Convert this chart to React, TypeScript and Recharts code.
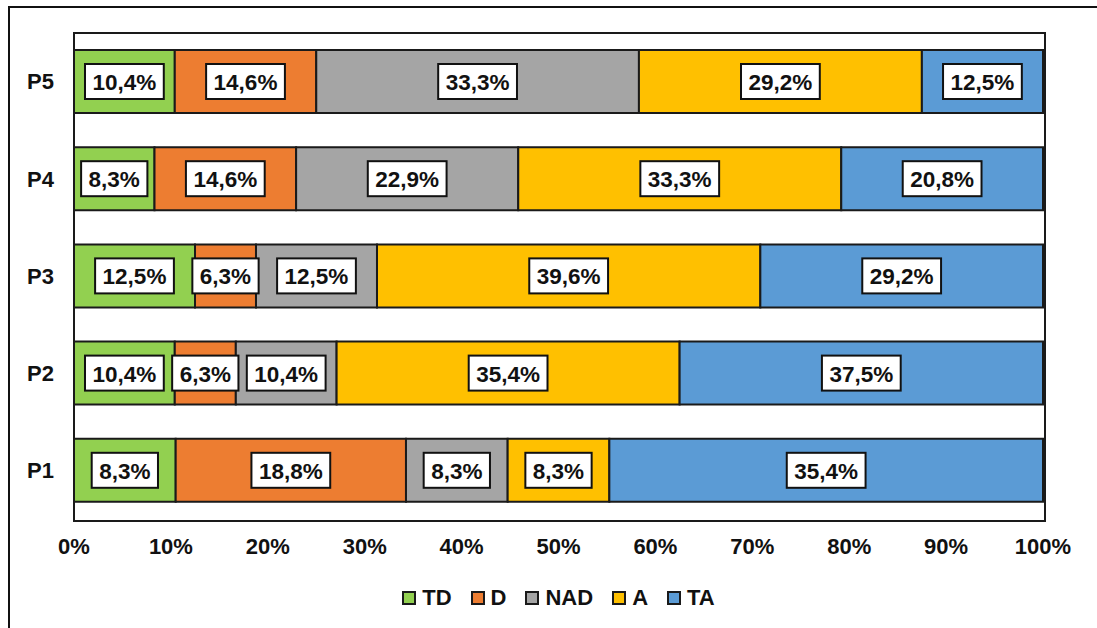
import React from 'react';
import { BarChart, Bar, XAxis, YAxis, LabelList } from 'recharts';

// categories bottom to top (P1 sits at the bottom)
const categories = ['P1', 'P2', 'P3', 'P4', 'P5'];

const tdValues = [8.3, 10.4, 12.5, 8.3, 10.4];
const dValues = [18.8, 6.3, 6.3, 14.6, 14.6];
const nadValues = [8.3, 10.4, 12.5, 22.9, 33.3];
const aValues = [8.3, 35.4, 39.6, 33.3, 29.2];
const taValues = [35.4, 37.5, 29.2, 20.8, 12.5];

const xTicks = [0, 0.1, 0.2, 0.3, 0.4, 0.5, 0.6, 0.7, 0.8, 0.9, 1];

const series = [
    { key: 'TD', values: tdValues, color: '#92D050' },
    { key: 'D', values: dValues, color: '#ED7D31' },
    { key: 'NAD', values: nadValues, color: '#A5A5A5' },
    { key: 'A', values: aValues, color: '#FFC000' },
    { key: 'TA', values: taValues, color: '#5B9BD5' },
];

const FONT = '"Liberation Sans", Arial, sans-serif';
const W = 1097;
const H = 628;
const PLOT = { left: 74, top: 33, right: 1043, bottom: 519 };

const data = categories.map((name, i) => {
    const row: any = { name };
    series.forEach(s => { row[s.key] = s.values[i]; });
    return row;
});

const fmt = (v: number) => v.toFixed(1).replace('.', ',') + '%';

// rough Arial bold widths in em
const textWidth = (s: string, size: number) => {
    let w = 0;
    for (const c of s) {
        if (c === ',') w += 0.278;
        else if (c === '%') w += 0.889;
        else w += 0.556;
    }
    return w * size;
};

const makeLabel = (values: number[]) => (props: any) => {
    const { x, y, width, height, index } = props;
    const txt = fmt(values[index]);
    const fs = 22.5;
    const bw = textWidth(txt, fs) + 15;
    const bh = 35;
    const cx = x + width / 2;
    const cy = y + height / 2;
    return (
        <g>
            <rect x={cx - bw / 2} y={cy - bh / 2} width={bw} height={bh} fill="#fff" stroke="#111" strokeWidth={2} />
            <text x={cx} y={cy + 1} textAnchor="middle" dominantBaseline="central"
                fontFamily={FONT} fontWeight="bold" fontSize={fs} fill="#111">{txt}</text>
        </g>
    );
};

export default function App() {
    return (
        <div style={{ position: 'absolute', left: 0, top: 0, width: W, height: H, background: '#fff', overflow: 'hidden', fontFamily: FONT }}>
            {/* outer frame (only left and top edges visible) */}
            <div style={{ position: 'absolute', left: 8, top: 6, width: W, height: H, borderLeft: '2px solid #111', borderTop: '2px solid #111' }} />
            <div style={{ position: 'absolute', left: 0, top: 0 }}>
                <BarChart width={W} height={H} data={data} layout="vertical" stackOffset="expand"
                    margin={{ top: PLOT.top, right: W - PLOT.right, left: 0, bottom: H - PLOT.bottom - 40 }}
                    barSize={63}>
                    <XAxis type="number" domain={[0, 1]} ticks={xTicks} height={40}
                        tickFormatter={(v: number) => `${Math.round(v * 100)}%`}
                        axisLine={false} tickLine={false} tickSize={0} tickMargin={19}
                        tick={{ fill: '#111', fontSize: 22, fontWeight: 'bold', fontFamily: FONT }} />
                    <YAxis type="category" dataKey="name" reversed width={PLOT.left}
                        axisLine={false} tickLine={false} tickSize={0} tickMargin={20}
                        tick={{ fill: '#111', fontSize: 22, fontWeight: 'bold', fontFamily: FONT }} />
                    {series.map(s => (
                        <Bar key={s.key} dataKey={s.key} stackId="a" fill={s.color}
                            stroke="#1a1a1a" strokeWidth={2} isAnimationActive={false}>
                            <LabelList dataKey={s.key} content={makeLabel(s.values)} />
                        </Bar>
                    ))}
                </BarChart>
            </div>
            {/* plot area border */}
            <div style={{
                position: 'absolute', left: PLOT.left - 1, top: PLOT.top - 1,
                width: PLOT.right - PLOT.left, height: PLOT.bottom - PLOT.top,
                border: '2px solid #1a1a1a', pointerEvents: 'none'
            }} />
            {/* legend */}
            <div style={{
                position: 'absolute', left: PLOT.left, width: PLOT.right - PLOT.left, top: 585, height: 26,
                display: 'flex', justifyContent: 'center', alignItems: 'center', gap: 19
            }}>
                {series.map(s => (
                    <div key={s.key} style={{ display: 'flex', alignItems: 'center', gap: 6 }}>
                        <div style={{ width: 10, height: 10, background: s.color, border: '2px solid #1a1a1a' }} />
                        <span style={{ fontSize: 22, fontWeight: 'bold', color: '#111', lineHeight: '26px' }}>{s.key}</span>
                    </div>
                ))}
            </div>
        </div>
    );
}
